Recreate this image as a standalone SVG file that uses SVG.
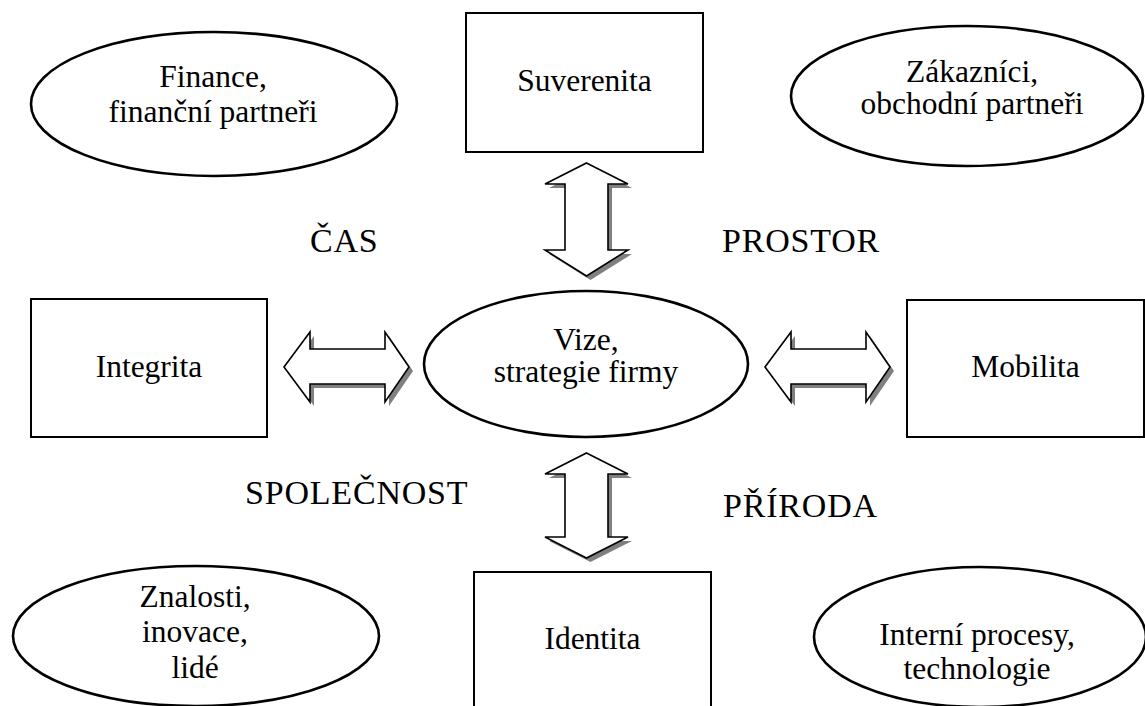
<svg xmlns="http://www.w3.org/2000/svg" width="1145" height="706" viewBox="0 0 1145 706">
  <defs>
    <style>
      .box { fill: #fff; stroke: #000; stroke-width: 2; }
      .oval { fill: #fff; stroke: #000; stroke-width: 2.6; }
      .lbl { font-family: 'Liberation Serif', 'Times New Roman', serif; font-size: 31.5px; fill: #000; text-anchor: middle; }
      .axis { font-family: 'Liberation Serif', 'Times New Roman', serif; font-size: 34px; fill: #000; letter-spacing: 0.8px; }
      .arrow { fill: #fff; stroke: #000; stroke-width: 1.6; stroke-linejoin: miter; }
      .shadow { fill: #808080; stroke: none; }
    </style>
    <!-- double-headed block arrows, drawn about the origin -->
    <polygon id="dblV" points="0,-56.5 41.5,-35.5 21.5,-35.5 21.5,30.5 41.5,30.5 0,56.5 -41.5,30.5 -21.5,30.5 -21.5,-35.5 -41.5,-35.5"/>
    <polygon id="dblV2" points="0,-52.5 41.5,-31.5 21.5,-31.5 21.5,31.5 41.5,31.5 0,52.5 -41.5,31.5 -21.5,31.5 -21.5,-31.5 -41.5,-31.5"/>
    <polygon id="dblH" points="-62.5,0 -36.5,-35 -36.5,-18 38.5,-18 38.5,-35 62.5,0 38.5,35 38.5,17 -36.5,17 -36.5,35"/>
  </defs>

  <rect width="1145" height="706" fill="#fff"/>

  <!-- connectors: block double arrows with drop shadow -->
  <g id="connectors">
    <g id="arrow-top" transform="translate(586.5,219.5)">
      <use href="#dblV" class="shadow" transform="translate(4,4)"/>
      <use href="#dblV" class="arrow"/>
    </g>
    <g id="arrow-bottom" transform="translate(586.5,505.5)">
      <use href="#dblV2" class="shadow" transform="translate(4,4)"/>
      <use href="#dblV2" class="arrow"/>
    </g>
    <g id="arrow-left" transform="translate(346.5,367)">
      <use href="#dblH" class="shadow" transform="translate(4,4)"/>
      <use href="#dblH" class="arrow"/>
    </g>
    <g id="arrow-right" transform="translate(827.5,367)">
      <use href="#dblH" class="shadow" transform="translate(4,4)"/>
      <use href="#dblH" class="arrow"/>
    </g>
  </g>

  <g id="suverenita">
    <rect class="box" x="466" y="13" width="237" height="139"/>
    <text class="lbl" x="584.5" y="91">Suverenita</text>
  </g>
  <g id="integrita">
    <rect class="box" x="31" y="299" width="236" height="138"/>
    <text class="lbl" x="149" y="377">Integrita</text>
  </g>
  <g id="mobilita">
    <rect class="box" x="907" y="300" width="237" height="137"/>
    <text class="lbl" x="1025.5" y="377">Mobilita</text>
  </g>
  <g id="identita">
    <rect class="box" x="474" y="572" width="237" height="145"/>
    <text class="lbl" x="592.5" y="649">Identita</text>
  </g>

  <g id="finance">
    <ellipse class="oval" cx="214" cy="104" rx="183" ry="72"/>
    <text class="lbl" x="213" y="87">Finance,</text>
    <text class="lbl" x="213" y="122">finanční partneři</text>
  </g>
  <g id="zakaznici">
    <ellipse class="oval" cx="967" cy="96" rx="176" ry="70"/>
    <text class="lbl" x="972" y="82">Zákazníci,</text>
    <text class="lbl" x="972" y="114">obchodní partneři</text>
  </g>
  <g id="vize">
    <ellipse class="oval" cx="586" cy="364" rx="162" ry="73"/>
    <text class="lbl" x="586" y="350">Vize,</text>
    <text class="lbl" x="586" y="382">strategie firmy</text>
  </g>
  <g id="znalosti">
    <ellipse class="oval" cx="196" cy="636" rx="183" ry="70"/>
    <text class="lbl" x="195" y="607">Znalosti,</text>
    <text class="lbl" x="195" y="642">inovace,</text>
    <text class="lbl" x="195" y="678">lidé</text>
  </g>
  <g id="interni">
    <ellipse class="oval" cx="980" cy="637" rx="166" ry="70"/>
    <text class="lbl" x="977" y="645">Interní procesy,</text>
    <text class="lbl" x="977" y="679">technologie</text>
  </g>

  <g id="axes">
    <text class="axis" x="310" y="252">ČAS</text>
    <text class="axis" x="722" y="252">PROSTOR</text>
    <text class="axis" x="245" y="504">SPOLEČNOST</text>
    <text class="axis" x="723" y="517">PŘÍRODA</text>
  </g>
</svg>
